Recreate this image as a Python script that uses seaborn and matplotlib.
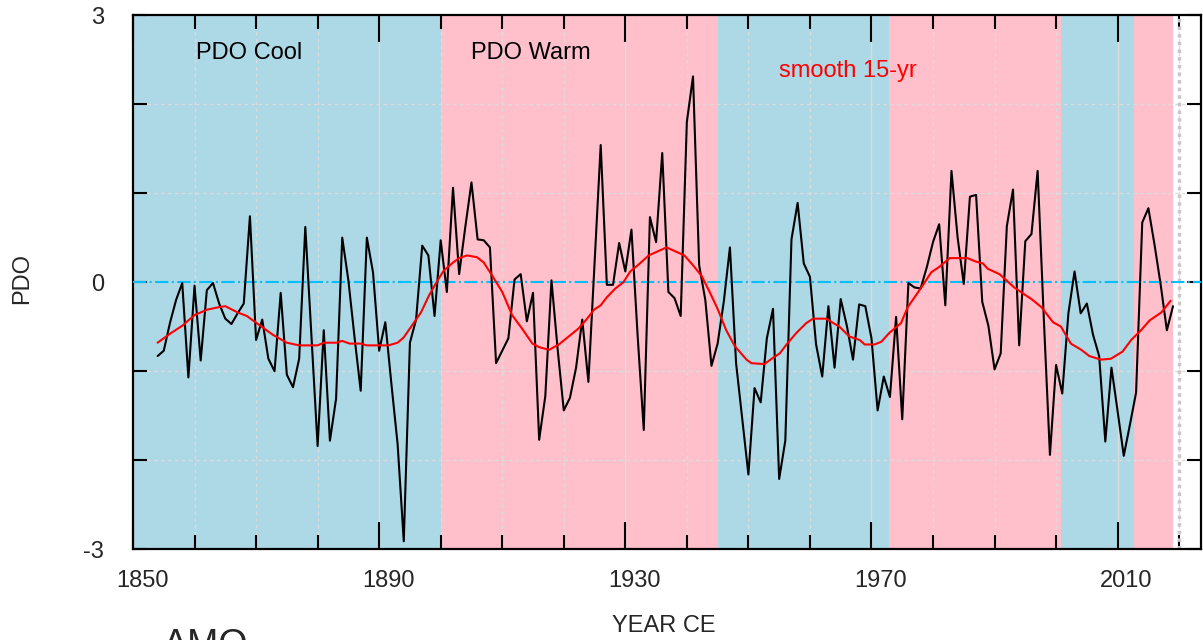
import numpy as np
import pandas as pd
import matplotlib
matplotlib.use("Agg")
import matplotlib.pyplot as plt
import matplotlib.transforms as mtransforms
import seaborn as sns

# --- DATA ---
years = np.arange(1854, 2020)
pdo = [
    -0.83, -0.77, -0.46, -0.20, -0.01, -1.07,                                # 1854-1859
    -0.04, -0.88, -0.09, -0.01, -0.24, -0.41, -0.47, -0.35, -0.24, 0.74,     # 1860s
    -0.65, -0.42, -0.86, -1.00, -0.12, -1.04, -1.18, -0.86, 0.62, -0.62,     # 1870s
    -1.84, -0.54, -1.78, -1.31, 0.50, 0.02, -0.62, -1.22, 0.50, 0.11,        # 1880s
    -0.77, -0.45, -1.15, -1.82, -2.91, -0.68, -0.42, 0.41, 0.30, -0.38,      # 1890s
    0.47, -0.11, 1.06, 0.09, 0.62, 1.12, 0.48, 0.47, 0.39, -0.91,            # 1900s
    -0.77, -0.63, 0.03, 0.09, -0.44, -0.12, -1.77, -1.28, 0.02, -0.75,       # 1910s
    -1.44, -1.30, -0.96, -0.42, -1.12, 0.20, 1.54, -0.03, -0.03, 0.44,       # 1920s
    0.12, 0.59, -0.60, -1.66, 0.73, 0.45, 1.45, -0.11, -0.18, -0.38,         # 1930s
    1.80, 2.31, 0.19, -0.20, -0.94, -0.69, -0.22, 0.39, -0.91, -1.54,        # 1940s
    -2.16, -1.19, -1.35, -0.63, -0.30, -2.21, -1.78, 0.48, 0.89, 0.21,       # 1950s
    0.06, -0.70, -1.06, -0.27, -0.96, -0.19, -0.49, -0.87, -0.25, -0.27,     # 1960s
    -0.63, -1.44, -1.06, -1.29, -0.39, -1.54, -0.01, -0.06, -0.07, 0.17,     # 1970s
    0.45, 0.65, -0.26, 1.25, 0.50, -0.02, 0.96, 0.98, -0.22, -0.49,          # 1980s
    -0.98, -0.80, 0.63, 1.04, -0.71, 0.46, 0.54, 1.25, -0.40, -1.94,         # 1990s
    -0.93, -1.25, -0.35, 0.12, -0.35, -0.24, -0.59, -0.83, -1.79, -0.96,     # 2000s
    -1.45, -1.95, -1.60, -1.24, 0.67, 0.83, 0.42, -0.03, -0.54, -0.27,       # 2010s
]

smooth_years = [
    1854, 1856, 1858, 1860, 1862, 1864, 1865, 1867, 1868.5, 1870.5, 1872.7,
    1875, 1877, 1880, 1881, 1883, 1884, 1885.2, 1887, 1888, 1891.5, 1893,
    1894, 1895.4, 1896.8, 1898.1, 1899.5, 1900.5, 1902, 1903, 1904.3, 1905.9,
    1907, 1908.4, 1910, 1911.6, 1913.2, 1914.9, 1916, 1917.6, 1919.2, 1920.8,
    1922.4, 1923.8, 1924.9, 1926, 1927, 1928.4, 1929.7, 1930.8, 1932.2,
    1933.8, 1935.4, 1936.7, 1938, 1939.6, 1941, 1942.4, 1943.7, 1945, 1946.4,
    1947.8, 1949.7, 1950.5, 1952.6, 1954, 1955.1, 1956.2, 1957.8, 1959.4,
    1960.5, 1962.6, 1964.8, 1966.4, 1968.1, 1968.9, 1970.5, 1971.6, 1972.9,
    1974.8, 1975.9, 1977, 1978.3, 1979.7, 1981, 1982.7, 1985.6, 1987, 1988.1,
    1988.9, 1990.8, 1992.1, 1993.2, 1994.9, 1996, 1997.6, 1999.5, 2000.8,
    2002.4, 2004.1, 2005.4, 2007.3, 2008.9, 2010.8, 2012.2, 2013.8, 2015.2,
    2017.1, 2018.6,
]
smooth_vals = [
    -0.68, -0.58, -0.49, -0.37, -0.31, -0.28, -0.27, -0.34, -0.38, -0.48, -0.59,
    -0.68, -0.71, -0.71, -0.68, -0.68, -0.66, -0.69, -0.69, -0.71, -0.71, -0.68,
    -0.62, -0.48, -0.34, -0.15, 0.02, 0.13, 0.22, 0.27, 0.30, 0.28,
    0.22, 0.07, -0.11, -0.37, -0.52, -0.69, -0.73, -0.76, -0.70, -0.61,
    -0.52, -0.41, -0.31, -0.26, -0.17, -0.07, 0.00, 0.12, 0.20,
    0.30, 0.35, 0.39, 0.35, 0.30, 0.19, 0.07, -0.11, -0.30, -0.54,
    -0.72, -0.87, -0.91, -0.92, -0.85, -0.80, -0.70, -0.57, -0.46,
    -0.41, -0.41, -0.50, -0.61, -0.65, -0.70, -0.70, -0.67, -0.57,
    -0.46, -0.28, -0.17, -0.04, 0.11, 0.17, 0.27, 0.27, 0.23, 0.21,
    0.15, 0.09, 0.01, -0.06, -0.14, -0.19, -0.28, -0.45, -0.50,
    -0.69, -0.76, -0.83, -0.87, -0.86, -0.78, -0.65, -0.54, -0.43,
    -0.34, -0.21,
]

# PDO phase bands
phase_edges = [1850, 1900, 1945, 1972.8, 2000.8, 2012.6, 2019]
phase_kind = ["cool", "warm", "cool", "warm", "cool", "warm"]
phase_colors = {"cool": "lightblue", "warm": "pink"}

x_major = [1850, 1890, 1930, 1970, 2010]
x_minor = list(range(1860, 2021, 10))
y_major = [-3, 0, 3]
y_minor = [-2, -1, 1, 2]

# --- PLOT ---
sns.set_style("ticks")
plt.rcParams["font.family"] = ["Liberation Sans", "DejaVu Sans"]

fig = plt.figure(figsize=(12.03, 6.40), dpi=100)
ax = fig.add_axes([133 / 1203, 1 - 549.3 / 640, 1067.7 / 1203, 534.3 / 640])

for i, kind in enumerate(phase_kind):
    ax.axvspan(phase_edges[i], phase_edges[i + 1], color=phase_colors[kind],
               lw=0, zorder=0)

df = pd.DataFrame({"year": years, "pdo": pdo})
sm = pd.DataFrame({"year": smooth_years, "pdo": smooth_vals})

ax.axhline(0, color="deepskyblue", ls="-.", lw=1.5, zorder=3)
sns.lineplot(data=df, x="year", y="pdo", color="black", lw=1.5, ax=ax, zorder=4)
sns.lineplot(data=sm, x="year", y="pdo", color="red", lw=1.5, ax=ax, zorder=5)
ax.axvline(2020, color="#c8c8c8", ls=(0, (1, 1.2)), lw=2.5, zorder=1)

ax.set_xlim(1850, 2023.5)
ax.set_ylim(-3, 3)
ax.set_xticks(x_major)
ax.set_xticks(x_minor, minor=True)
ax.set_yticks(y_major)
ax.set_yticks(y_minor, minor=True)
ax.set_xticklabels([str(v) for v in x_major])
ax.set_yticklabels([str(v) for v in y_major])

ax.set_axisbelow(True)
ax.grid(which="major", axis="x", color="#dcdcdc", ls="-", lw=1)
ax.grid(which="minor", axis="both", color="#dcdcdc", ls=(0, (2.5, 2.5)), lw=1)

ax.tick_params(which="both", direction="in", top=True, right=True,
               width=1.5, color="black", labelsize=17)
ax.xaxis.set_tick_params(which="major", length=19.5, pad=15)
ax.xaxis.set_tick_params(which="minor", length=10)
ax.yaxis.set_tick_params(which="both", length=10, pad=21)
for s in ax.spines.values():
    s.set_linewidth(1.6)
    s.set_color("black")

# x tick labels sit a little right of their ticks in the original
shift = mtransforms.ScaledTranslation(9 / 100, 0, fig.dpi_scale_trans)
for lab in ax.get_xticklabels():
    lab.set_transform(lab.get_transform() + shift)

ax.set_xlabel("")
ax.set_ylabel("")
ax.text(1860.2, 2.51, "PDO Cool", fontsize=17, color="black")
ax.text(1904.9, 2.51, "PDO Warm", fontsize=17, color="black")
ax.text(1955.0, 2.30, "smooth 15-yr", fontsize=17, color="red")

fig.text(22 / 1203, 1 - 279 / 640, "PDO", rotation=90, ha="center",
         va="center", fontsize=17)
fig.text(664 / 1203, 1 - 626 / 640, "YEAR CE", ha="center", va="center",
         fontsize=17)
fig.text(163 / 1203, 1 - 656 / 640, "AMO", ha="left", va="baseline",
         fontsize=27)

fig.savefig("out.png", dpi=100)
